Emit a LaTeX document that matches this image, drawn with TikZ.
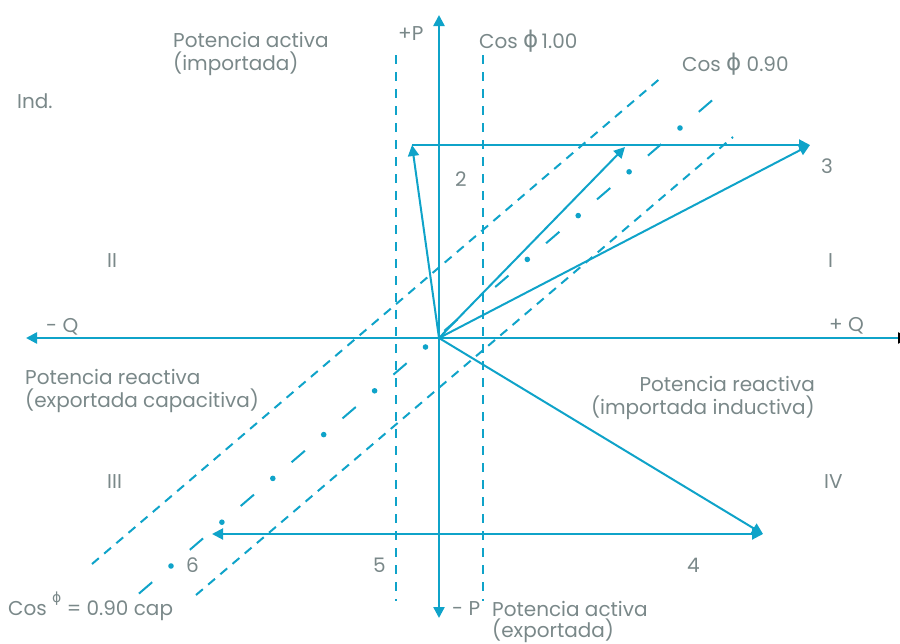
\documentclass[tikz,border=0pt]{standalone}
\usepackage{fontspec}
\setmainfont{Poppins}
\newfontfamily\phifont{DejaVu Sans}
\usetikzlibrary{arrows.meta,calc}
\definecolor{lineblue}{HTML}{0FA3C9}
\definecolor{labelgrey}{HTML}{7A8889}

\begin{document}
\begin{tikzpicture}[x=1pt, y=-1pt, >={Triangle[length=11pt,width=11pt]},
    axis/.style={draw=lineblue, line width=2.4pt},
    vec/.style={draw=lineblue, line width=2pt, ->},
    guide/.style={draw=lineblue, line width=2pt, dash pattern=on 9pt off 7pt},
    lbl/.style={text=labelgrey, inner sep=0pt, anchor=base west, align=left, font=\fontsize{20}{23}\selectfont}]
    \useasboundingbox (0,0) rectangle (900,643);
    \clip (0,0) rectangle (900,643);

    % axes
    \coordinate (o) at (439,338);
    \coordinate (pt) at (439,15);
    \coordinate (pb) at (439,618);
    \coordinate (ql) at (26,338);
    \coordinate (qr) at (909,338);
    \draw[axis, <->] (pb) -- (pt);
    \draw[axis, ->] (o) -- (ql);
    \draw[axis, -{Triangle[length=11pt,width=11pt,black]}] (o) -- (qr);

    % cos phi 1.00 limits
    \coordinate (v1a) at (396,55);
    \coordinate (v1b) at (396,601);
    \coordinate (v2a) at (483,55);
    \coordinate (v2b) at (483,601);
    \draw[guide, dash pattern=on 9pt off 8pt] (v1a) -- (v1b);
    \draw[guide, dash pattern=on 9pt off 8pt] (v2a) -- (v2b);

    % cos phi 0.90 limits
    \coordinate (u1) at (92,564);
    \coordinate (u2) at (663,76);
    \coordinate (l1) at (196,595);
    \coordinate (l2) at (733,137);
    \draw[guide] (u1) -- (u2);
    \draw[guide] (l1) -- (l2);
    \coordinate (d0) at (680,128);
    \coordinate (d10) at (171,566);
    \coordinate (m1) at ($(d0)!-0.063!(d10)$);
    \coordinate (m2) at ($(d0)!1.063!(d10)$);
    \draw[draw=lineblue, line width=2pt, dash pattern=on 17.5pt off 49.65pt] (m1) -- (m2);
    \foreach \k in {0,1,2,3,5,6,7,8,9,10}
      \fill[lineblue] ($(d0)!{\k/10}!(d10)$) circle (2.8);

    % vectors
    \coordinate (t2) at (412,145);
    \coordinate (t3) at (810,145);
    \coordinate (tm) at (625,147);
    \coordinate (t4) at (763,534);
    \coordinate (b6) at (212,534);
    \draw[vec] (o) -- (t2);
    \draw[vec] (o) -- (tm);
    \draw[vec] (o) -- (t3);
    \draw[vec] (t2) -- (t3);
    \draw[vec] (o) -- (t4);
    \draw[vec, <->] (b6) -- (t4);

    % labels
    \node[lbl] (pa) at (173,70) {Potencia activa\\(importada)};
    \node[lbl] (pp) at (398,40) {+P};
    \node[lbl] (c100) at (479,48) {Cos \raisebox{0.5pt}{\fontsize{23}{23}\phifont ϕ}\,1.00};
    \node[lbl] (c090) at (682,71) {Cos \raisebox{0.5pt}{\fontsize{23}{23}\phifont ϕ} 0.90};
    \node[lbl] (ind) at (17,108) {Ind.};
    \node[lbl] (n2) at (455,186) {2};
    \node[lbl] (n3) at (821,173) {3};
    \node[lbl] (q2) at (107,267) {II};
    \node[lbl] (q1) at (828,267) {I};
    \node[lbl] (mq) at (46,332) {- Q};
    \node[lbl] (pq) at (829,331) {+ Q};
    \node[lbl] (prc) at (25,407) {Potencia reactiva\\(exportada capacitiva)};
    \node[lbl, anchor=base east, align=right] (pri) at (815,414) {Potencia reactiva\\(importada inductiva)};
    \node[lbl] (q3) at (107,488) {III};
    \node[lbl] (q4) at (824,488) {IV};
    \node[lbl] (n6) at (186,572) {6};
    \node[lbl] (n5) at (373,572) {5};
    \node[lbl] (n4) at (687,572) {4};
    \node[lbl] (ccap) at (8,615) {Cos \raisebox{13pt}{\fontsize{14}{14}\phifont ϕ} = 0.90 cap};
    \node[lbl] (mp) at (452,615) {- P};
    \node[lbl, font=\fontsize{20}{21}\selectfont] (pe) at (492,637) {Potencia activa\\(exportada)};
  \end{tikzpicture}
\end{document}
